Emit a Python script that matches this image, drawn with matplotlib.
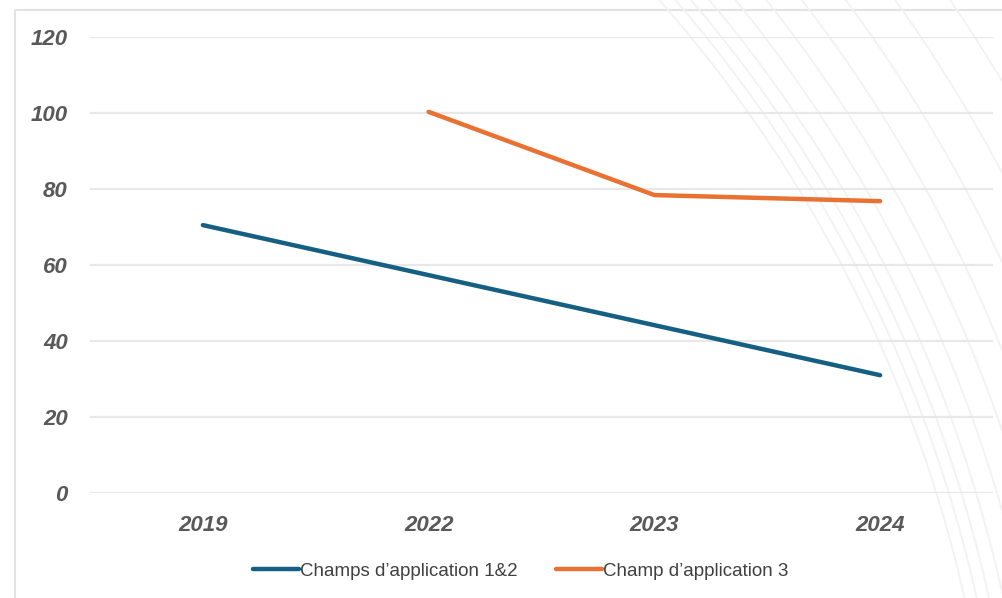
import numpy as np
import matplotlib
matplotlib.use("Agg")
import matplotlib.pyplot as plt
from matplotlib.patches import Rectangle

years = ["2019", "2022", "2023", "2024"]

# Champs 1&2 only has the first and last year, the line just joins them
champs_12_x = [0, 3]
champs_12 = [70.5, 31]

champ_3_x = [1, 2, 3]
champ_3 = [100.3, 78.4, 76.8]

W, H = 1002, 598
fig = plt.figure(figsize=(W / 100, H / 100), dpi=100)
fig.patch.set_facecolor("white")

# faint decorative arcs in the right part of the background
bg = fig.add_axes([0, 0, 1, 1], zorder=0)
bg.set_xlim(0, W)
bg.set_ylim(H, 0)
bg.axis("off")
t = np.linspace(0, 2 * np.pi, 2000)
cx, cy = -362, 898
for r in [1360, 1372, 1384, 1398, 1418, 1442, 1470, 1505, 1545, 1590, 1640, 1700]:
    bg.plot(cx + r * np.cos(t), cy + r * np.sin(t), color="#f2f2f2", lw=1.3)
bg.add_patch(Rectangle((15, 10), W, H, fill=False, edgecolor="#e3e3e3", lw=1.5))

ax = fig.add_axes([90 / W, 1 - 493 / H, (993 - 90) / W, (493 - 37) / H], zorder=1)
ax.patch.set_alpha(0)

ax.plot(champs_12_x, champs_12, color="#156082", lw=3.2,
        solid_capstyle="round", label="Champs d\u2019application 1&2")
ax.plot(champ_3_x, champ_3, color="#E97132", lw=3.2,
        solid_capstyle="round", label="Champ d\u2019application 3")

ax.set_xlim(-0.5, 3.5)
ax.set_ylim(0, 120)
ax.set_yticks(range(0, 121, 20))
ax.set_xticks(range(len(years)))
ax.set_xticklabels(years)
ax.grid(axis="y", color="#e8e8e8", lw=1.6)
ax.set_axisbelow(True)
for s in ax.spines.values():
    s.set_visible(False)
ax.tick_params(length=0, colors="#595959")
ax.tick_params(axis="y", pad=16)
ax.tick_params(axis="x", pad=16)
for lab in ax.get_xticklabels() + ax.get_yticklabels():
    lab.set_fontfamily("Liberation Sans")
    lab.set_fontweight("bold")
    lab.set_fontstyle("italic")
    lab.set_fontsize(16)

leg = ax.legend(loc="center", bbox_to_anchor=(0.477, -0.172), ncol=2, frameon=False,
                prop={"family": "Liberation Sans", "size": 13.5},
                handlelength=2.45, handletextpad=0.1, columnspacing=2.0)
for txt in leg.get_texts():
    txt.set_color("#404040")

fig.savefig("out.png", dpi=100)
